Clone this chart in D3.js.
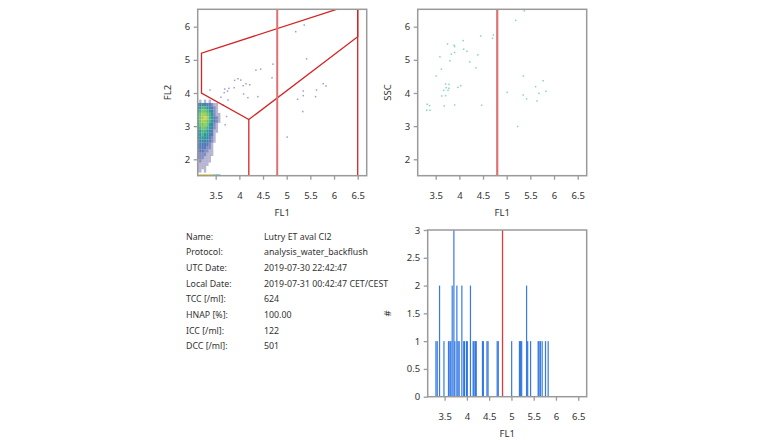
<!DOCTYPE html>
<html><head><meta charset="utf-8">
<script src="https://cdn.jsdelivr.net/npm/d3@7"></script>
<style>
body{margin:0;background:#fff;}
svg{display:block;}
text{font-family:"Noto Sans",sans-serif;fill:#333;}
</style>
</head><body>
<svg id="c" width="760" height="440"></svg>
<script>
// ---------- data ----------
const fl1Ticks = [3.5, 4, 4.5, 5, 5.5, 6, 6.5];
const fl1TickLabels = ["3.5", "4", "4.5", "5", "5.5", "6", "6.5"];
const yTicks = [2, 3, 4, 5, 6];
const yTickLabels = ["2", "3", "4", "5", "6"];
const histYTicks = [0, 0.5, 1, 1.5, 2, 2.5, 3];
const histYTickLabels = ["0", "0.5", "1", "1.5", "2", "2.5", "3"];

const gatePolygon = [[3.2, 4.0], [3.2, 5.2], [6.5, 6.73], [6.5, 5.7], [4.2, 3.2]];
const gateLines = [[[4.2, 3.2], [4.2, 1.4]], [[6.5, 1.4], [6.5, 6.6]]];
const thresholdFL1 = 4.8;

// density of the main cloud (FL1 vs FL2), level 0-9 per cell
const densityFL1 = [3.10, 3.15, 3.20, 3.25, 3.30, 3.35, 3.40, 3.45, 3.50, 3.55]; // left edges, width 0.05
const densityFL2 = [3.7, 3.6, 3.5, 3.4, 3.3, 3.2, 3.1, 3.0, 2.9, 2.8, 2.7, 2.6, 2.5, 2.4, 2.3, 2.2, 2.1, 2.0, 1.9, 1.8, 1.7, 1.6]; // bottom edges, height 0.1
const densityRows = [
  "0101010000",
  "3444332110",
  "4566543210",
  "5677654210",
  "6788765211",
  "6789865321",
  "6788765321",
  "5778754210",
  "5677654210",
  "4566543110",
  "4565543100",
  "4555432100",
  "3444432100",
  "3343321000",
  "3333221000",
  "2332211000",
  "2222111000",
  "2221110000",
  "1211110000",
  "1111100000",
  "1111000000",
  "1101000000"
];
const edgeRow = "9999999644"; // saturated events on the lower FL2 boundary

// sparse events outside the cloud (FL1, FL2)
const sparseFL1 = [5.37, 5.19, 5.42, 4.71, 4.35, 4.45, 4.69, 3.90, 3.97, 4.03, 4.08, 4.14, 4.22, 4.09, 4.18, 4.39, 3.38, 3.69, 3.78, 3.89, 3.68, 3.75, 3.61, 3.76, 3.65, 3.73, 3.70, 5.01, 5.35, 5.63, 5.77, 5.83, 5.61, 5.23, 5.35, 5.34];
const sparseFL2 = [6.05, 5.85, 5.03, 4.87, 4.69, 4.72, 4.46, 4.38, 4.43, 4.39, 4.22, 4.28, 4.25, 3.97, 3.86, 3.89, 4.09, 4.12, 4.14, 4.16, 4.01, 4.06, 3.87, 3.79, 3.64, 3.29, 3.04, 2.67, 4.06, 4.09, 4.28, 4.21, 3.89, 3.81, 3.92, 3.44];

// gated events (FL1, SSC)
const gatedFL1 = [5.37, 5.19, 4.45, 4.72, 4.70, 3.75, 3.89, 3.90, 4.08, 4.09, 4.16, 3.90, 3.83, 4.39, 3.59, 3.80, 4.22, 4.35, 3.62, 3.51, 3.71, 3.78, 3.72, 3.78, 3.67, 3.76, 3.97, 4.03, 3.63, 3.71, 3.32, 3.37, 3.68, 3.90, 4.47, 3.31, 3.38, 5.35, 5.77, 5.61, 5.01, 5.68, 5.83, 5.35, 5.42, 5.64, 5.23];
const gatedSSC = [6.48, 6.19, 5.72, 5.75, 5.65, 5.48, 5.44, 5.40, 5.58, 5.32, 5.26, 5.22, 5.17, 5.15, 5.09, 4.97, 4.94, 4.76, 4.72, 4.51, 4.27, 4.26, 4.16, 4.14, 4.08, 4.08, 4.17, 4.22, 3.91, 3.92, 3.66, 3.62, 3.61, 3.64, 3.63, 3.48, 3.48, 4.51, 4.37, 4.19, 4.02, 3.99, 4.05, 3.94, 3.82, 3.76, 2.99];

// histogram of gated FL1
const histFL1 = [3.305, 3.334, 3.386, 3.485, 3.587, 3.618, 3.640, 3.670, 3.708, 3.730, 3.775, 3.800, 3.827, 3.887, 3.930, 3.945, 3.990, 4.010, 4.080, 4.140, 4.160, 4.190, 4.210, 4.350, 4.370, 4.450, 4.475, 4.680, 4.705, 5.005, 5.180, 5.205, 5.230, 5.340, 5.365, 5.430, 5.600, 5.620, 5.650, 5.690, 5.765, 5.825];
const histCount = [1, 1, 2, 1, 1, 1, 1, 2, 3, 1, 2, 1, 1, 2, 1, 1, 1, 1, 2, 1, 1, 1, 1, 1, 1, 1, 1, 1, 1, 1, 1, 1, 1, 2, 1, 1, 1, 1, 1, 1, 1, 1];

const infoKeys = ["Name:", "Protocol:", "UTC Date:", "Local Date:", "TCC [/ml]:", "HNAP [%]:", "ICC [/ml]:", "DCC [/ml]:"];
const infoValues = ["Lutry ET aval Cl2", "analysis_water_backflush", "2019-07-30 22:42:47", "2019-07-31 00:42:47 CET/CEST", "624", "100.00", "122", "501"];

// ---------- drawing ----------
const svg = d3.select("#c");
const xDomain = [3.12, 6.69];
const yDomain = [1.505, 6.525];
const boxColor = "#9a9a9a";
const fontSize = 9.5;

function panel(id, left, top, w, h, yDom) {
  const x = d3.scaleLinear().domain(xDomain).range([left, left + w]);
  const y = d3.scaleLinear().domain(yDom).range([top + h, top]);
  svg.append("clipPath").attr("id", id).append("rect")
    .attr("x", left).attr("y", top).attr("width", w).attr("height", h);
  const g = svg.append("g").attr("clip-path", `url(#${id})`);
  return {x, y, g, left, top, w, h};
}

function frame(p, yt, ytl, xTitle, yTitle, yTitleX) {
  const ax = svg.append("g").attr("transform", `translate(0,${p.top + p.h})`)
    .call(d3.axisBottom(p.x).tickValues(fl1Ticks).tickFormat((d, i) => fl1TickLabels[i]).tickSize(4).tickPadding(13));
  const ay = svg.append("g").attr("transform", `translate(${p.left},0)`)
    .call(d3.axisLeft(p.y).tickValues(yt).tickFormat((d, i) => ytl[i]).tickSize(4).tickPadding(3.5));
  [ax, ay].forEach(a => {
    a.select(".domain").remove();
    a.selectAll(".tick line").attr("stroke", boxColor).attr("stroke-width", 1.3);
    a.selectAll(".tick text").attr("fill", "#333").attr("font-size", fontSize).attr("font-family", '"Noto Sans",sans-serif');
  });
  svg.append("rect").attr("x", p.left).attr("y", p.top).attr("width", p.w).attr("height", p.h)
    .attr("fill", "none").attr("stroke", boxColor).attr("stroke-width", 1.5);
  svg.append("text").attr("x", p.left + p.w / 2).attr("y", p.top + p.h + 40)
    .attr("text-anchor", "middle").attr("font-size", fontSize).text(xTitle);
  svg.append("text").attr("transform", `translate(${yTitleX},${p.top + p.h / 2}) rotate(-90)`)
    .attr("text-anchor", "middle").attr("font-size", fontSize).text(yTitle);
}

// Panel A: FL1 vs FL2
const A = panel("clipA", 197.7, 9.3, 169, 166.4, yDomain);
const colorScale = d3.scaleLinear().domain([1, 3, 5, 7, 9])
  .range(["#2d2a7e", "#2f58a8", "#2a9a9a", "#72c466", "#d6d840"]);
const levelOpacity = [0, 0.35, 0.6, 0.8, 0.92, 1, 1, 1, 1, 1];
densityRows.forEach((row, j) => {
  row.split("").forEach((ch, i) => {
    const lv = +ch;
    if (!lv) return;
    const x0 = A.x(densityFL1[i]), x1 = A.x(densityFL1[i] + 0.05);
    const y0 = A.y(densityFL2[j] + 0.1), y1 = A.y(densityFL2[j]);
    A.g.append("rect").attr("x", x0).attr("y", y0).attr("width", x1 - x0).attr("height", y1 - y0)
      .attr("fill", colorScale(lv)).attr("fill-opacity", levelOpacity[lv]);
  });
});
edgeRow.split("").forEach((ch, i) => {
  const lv = +ch;
  const x0 = A.x(densityFL1[i]), x1 = A.x(densityFL1[i] + 0.05);
  A.g.append("rect").attr("x", x0).attr("y", A.y(yDomain[0]) - 1.6).attr("width", x1 - x0).attr("height", 1.6)
    .attr("fill", lv >= 8 ? "#ecd94a" : "#7fcfd8");
});
A.g.selectAll(".sp").data(sparseFL1).join("rect")
  .attr("x", (d) => A.x(d) - 0.75).attr("y", (d, i) => A.y(sparseFL2[i]) - 0.75)
  .attr("width", 1.5).attr("height", 1.5).attr("fill", "#8484cc").attr("fill-opacity", 0.8);
A.g.append("path").datum(gatePolygon)
  .attr("d", d3.line().x(d => A.x(d[0])).y(d => A.y(d[1])).curve(d3.curveLinearClosed))
  .attr("fill", "none").attr("stroke", "#d42424").attr("stroke-width", 1.3);
gateLines.forEach(l => A.g.append("path").datum(l)
  .attr("d", d3.line().x(d => A.x(d[0])).y(d => A.y(d[1])))
  .attr("stroke", "#d42424").attr("stroke-width", 1.3).attr("fill", "none"));
A.g.append("line").attr("x1", A.x(thresholdFL1)).attr("x2", A.x(thresholdFL1))
  .attr("y1", A.top).attr("y2", A.top + A.h).attr("stroke", "#e27070").attr("stroke-width", 2);
frame(A, yTicks, yTickLabels, "FL1", "FL2", 171);

// Panel B: FL1 vs SSC (gated)
const B = panel("clipB", 417.7, 9.3, 169, 166.4, yDomain);
B.g.selectAll(".gp").data(gatedFL1).join("rect")
  .attr("x", (d) => B.x(d) - 0.75).attr("y", (d, i) => B.y(gatedSSC[i]) - 0.75)
  .attr("width", 1.5).attr("height", 1.5).attr("fill", "#86d4c4");
B.g.append("line").attr("x1", B.x(thresholdFL1)).attr("x2", B.x(thresholdFL1))
  .attr("y1", B.top).attr("y2", B.top + B.h).attr("stroke", "#e27070").attr("stroke-width", 2.2);
frame(B, yTicks, yTickLabels, "FL1", "SSC", 391);

// Panel C: histogram
const C = panel("clipC", 427.7, 230, 159, 166.7, [0, 3]);
C.g.selectAll(".hb").data(histFL1).join("rect")
  .attr("x", d => C.x(d) - 0.6).attr("width", 1.2)
  .attr("y", (d, i) => C.y(histCount[i])).attr("height", (d, i) => C.y(0) - C.y(histCount[i]))
  .attr("fill", "#1463e0").attr("fill-opacity", 0.85);
C.g.append("line").attr("x1", C.x(thresholdFL1)).attr("x2", C.x(thresholdFL1))
  .attr("y1", C.top).attr("y2", C.top + C.h).attr("stroke", "#e03a3a").attr("stroke-width", 1.3);
frame(C, histYTicks, histYTickLabels, "FL1", "#", 391);

// Info block
const info = svg.append("g");
infoKeys.forEach((k, i) => {
  const yy = 239.5 + i * 15.7;
  info.append("text").attr("x", 186).attr("y", yy).attr("font-size", 8.8).text(k);
  info.append("text").attr("x", 264).attr("y", yy).attr("font-size", 8.8).text(infoValues[i]);
});
</script>
</body></html>
